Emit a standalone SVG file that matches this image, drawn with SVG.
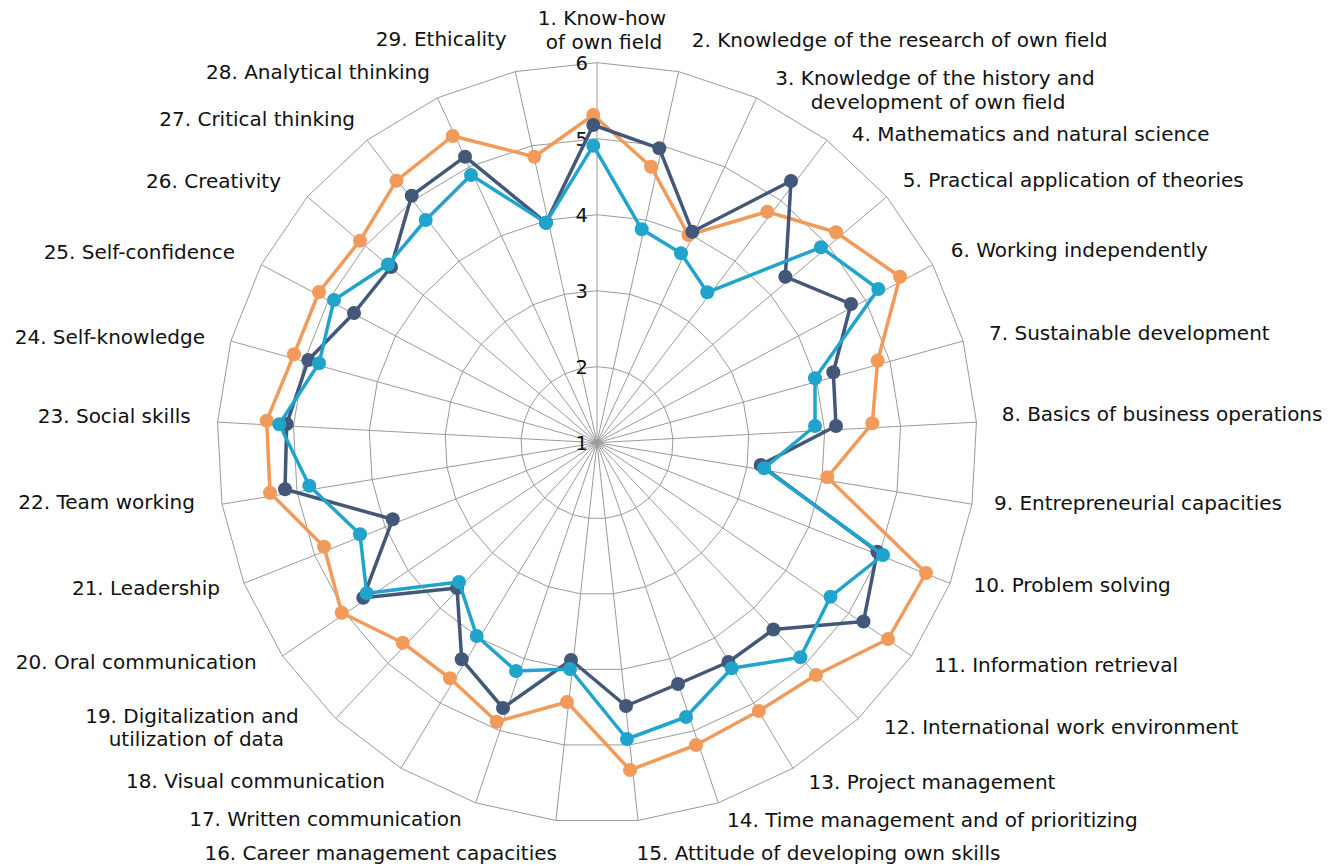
<svg xmlns="http://www.w3.org/2000/svg" xmlns:xlink="http://www.w3.org/1999/xlink" width="1341" height="865" viewBox="0 0 1341 865">
<style>
  .lbl { font-family: "DejaVu Sans", "Liberation Sans", sans-serif; font-size: 20px; fill: #111; }
  .num { font-size: 19.5px; }
  .st { text-anchor: start; }
  .en { text-anchor: end; }
  .mi { text-anchor: middle; }
  .grid { fill: none; stroke: #9a9a9a; stroke-width: 1; vector-effect: non-scaling-stroke; }
  .ser { fill: none; stroke-width: 3.5; stroke-linejoin: round; }
  .orange .ser { stroke: #F29A59; }
  .orange circle { fill: #F29A59; }
  .navy .ser { stroke: #435879; }
  .navy circle { fill: #435879; }
  .teal .ser { stroke: #21A4CB; }
  .teal circle { fill: #21A4CB; }
</style>
<defs>
  <polygon id="ring" class="grid" points="0,-100 21.50,-97.66 41.99,-90.76 60.52,-79.61 76.23,-64.73 88.35,-46.84 96.35,-26.75 99.85,-5.41 98.68,16.18 92.90,37.01 82.77,56.12 68.77,72.60 51.56,85.68 31.93,94.77 10.81,99.41 -10.81,99.41 -31.93,94.77 -51.56,85.68 -68.77,72.60 -82.77,56.12 -92.90,37.01 -98.68,16.18 -99.85,-5.41 -96.35,-26.75 -88.35,-46.84 -76.23,-64.73 -60.52,-79.61 -41.99,-90.76 -21.50,-97.66"/>
</defs>
<rect width="1341" height="865" fill="#fff"/>
<g id="grid" transform="translate(597,442.7)">
  <use xlink:href="#ring" href="#ring" transform="scale(0.76)"/>
  <use xlink:href="#ring" href="#ring" transform="scale(1.52)"/>
  <use xlink:href="#ring" href="#ring" transform="scale(2.28)"/>
  <use xlink:href="#ring" href="#ring" transform="scale(3.04)"/>
  <use xlink:href="#ring" href="#ring" transform="scale(3.8)"/>
  <path class="grid" transform="scale(3.8)" d="M0 0L0 -100M0 0L21.50 -97.66M0 0L41.99 -90.76M0 0L60.52 -79.61M0 0L76.23 -64.73M0 0L88.35 -46.84M0 0L96.35 -26.75M0 0L99.85 -5.41M0 0L98.68 16.18M0 0L92.90 37.01M0 0L82.77 56.12M0 0L68.77 72.60M0 0L51.56 85.68M0 0L31.93 94.77M0 0L10.81 99.41M0 0L-10.81 99.41M0 0L-31.93 94.77M0 0L-51.56 85.68M0 0L-68.77 72.60M0 0L-82.77 56.12M0 0L-92.90 37.01M0 0L-98.68 16.18M0 0L-99.85 -5.41M0 0L-96.35 -26.75M0 0L-88.35 -46.84M0 0L-76.23 -64.73M0 0L-60.52 -79.61M0 0L-41.99 -90.76M0 0L-21.50 -97.66"/>
</g>
<g id="scale" class="lbl num st">
  <text x="575.5" y="449.7">1</text>
  <text x="575.5" y="373.7">2</text>
  <text x="575.5" y="297.7">3</text>
  <text x="575.5" y="221.7">4</text>
  <text x="575.5" y="145.7">5</text>
  <text x="575.5" y="69.7">6</text>
</g>
<g id="connectors">
<g id="series-orange" class="orange">
  <polygon class="ser" points="593.3,115 651,166.7 688.5,235 767.3,211.7 836,232.3 900,276.7 877.7,360.7 872.3,423.3 827.3,477.3 926,573 888,639 816,675 758.8,711 696,745 630,770 567,702 496.7,721.7 450,678.3 402.7,642.7 341.7,612.7 324,546.7 270,492.7 266.7,420.7 294,354.3 319,292 360,240.7 396.5,180.7 452.7,136 534.3,156.7"/>
  <circle cx="593.3" cy="115" r="7"/><circle cx="651" cy="166.7" r="7"/><circle cx="688.5" cy="235" r="7"/><circle cx="767.3" cy="211.7" r="7"/><circle cx="836" cy="232.3" r="7"/><circle cx="900" cy="276.7" r="7"/><circle cx="877.7" cy="360.7" r="7"/><circle cx="872.3" cy="423.3" r="7"/><circle cx="827.3" cy="477.3" r="7"/><circle cx="926" cy="573" r="7"/><circle cx="888" cy="639" r="7"/><circle cx="816" cy="675" r="7"/><circle cx="758.8" cy="711" r="7"/><circle cx="696" cy="745" r="7"/><circle cx="630" cy="770" r="7"/><circle cx="567" cy="702" r="7"/><circle cx="496.7" cy="721.7" r="7"/><circle cx="450" cy="678.3" r="7"/><circle cx="402.7" cy="642.7" r="7"/><circle cx="341.7" cy="612.7" r="7"/><circle cx="324" cy="546.7" r="7"/><circle cx="270" cy="492.7" r="7"/><circle cx="266.7" cy="420.7" r="7"/><circle cx="294" cy="354.3" r="7"/><circle cx="319" cy="292" r="7"/><circle cx="360" cy="240.7" r="7"/><circle cx="396.5" cy="180.7" r="7"/><circle cx="452.7" cy="136" r="7"/><circle cx="534.3" cy="156.7" r="7"/>
</g>
<g id="series-navy" class="navy">
  <polygon class="ser" points="593.3,125 659.3,148.3 692.3,231.7 791,181 785.3,276.7 851,304 833.3,372.3 836,426 760.7,465 877.3,551.7 863.5,621.5 773.4,629.5 728.4,662 678,684 626,706 571,660 503,708 461.7,659.3 457,588 363.3,597.7 392.7,519.3 285,489.3 286.7,424 308.3,360 354,313 391,267 411.7,195.7 465,156.7 546,222.7"/>
  <circle cx="593.3" cy="125" r="7"/><circle cx="659.3" cy="148.3" r="7"/><circle cx="692.3" cy="231.7" r="7"/><circle cx="791" cy="181" r="7"/><circle cx="785.3" cy="276.7" r="7"/><circle cx="851" cy="304" r="7"/><circle cx="833.3" cy="372.3" r="7"/><circle cx="836" cy="426" r="7"/><circle cx="760.7" cy="465" r="7"/><circle cx="877.3" cy="551.7" r="7"/><circle cx="863.5" cy="621.5" r="7"/><circle cx="773.4" cy="629.5" r="7"/><circle cx="728.4" cy="662" r="7"/><circle cx="678" cy="684" r="7"/><circle cx="626" cy="706" r="7"/><circle cx="571" cy="660" r="7"/><circle cx="503" cy="708" r="7"/><circle cx="461.7" cy="659.3" r="7"/><circle cx="457" cy="588" r="7"/><circle cx="363.3" cy="597.7" r="7"/><circle cx="392.7" cy="519.3" r="7"/><circle cx="285" cy="489.3" r="7"/><circle cx="286.7" cy="424" r="7"/><circle cx="308.3" cy="360" r="7"/><circle cx="354" cy="313" r="7"/><circle cx="391" cy="267" r="7"/><circle cx="411.7" cy="195.7" r="7"/><circle cx="465" cy="156.7" r="7"/><circle cx="546" cy="222.7" r="7"/>
</g>
<g id="series-teal" class="teal">
  <polygon class="ser" points="593.3,145.7 641.7,229.3 681,253.3 707.3,292.3 821,247.3 878.3,289 815,378.3 815,426 764,468.3 883,555 830.5,596.7 800.4,657.3 731.8,668.3 686,717 627,739 570,669 516,671 476.7,636 459,582 366.7,593.3 360,534.3 309.3,485.7 279.3,424.3 319,363.3 334,300 388,264.5 425.7,220 471,175 546,222.7"/>
  <circle cx="593.3" cy="145.7" r="7"/><circle cx="641.7" cy="229.3" r="7"/><circle cx="681" cy="253.3" r="7"/><circle cx="707.3" cy="292.3" r="7"/><circle cx="821" cy="247.3" r="7"/><circle cx="878.3" cy="289" r="7"/><circle cx="815" cy="378.3" r="7"/><circle cx="815" cy="426" r="7"/><circle cx="764" cy="468.3" r="7"/><circle cx="883" cy="555" r="7"/><circle cx="830.5" cy="596.7" r="7"/><circle cx="800.4" cy="657.3" r="7"/><circle cx="731.8" cy="668.3" r="7"/><circle cx="686" cy="717" r="7"/><circle cx="627" cy="739" r="7"/><circle cx="570" cy="669" r="7"/><circle cx="516" cy="671" r="7"/><circle cx="476.7" cy="636" r="7"/><circle cx="459" cy="582" r="7"/><circle cx="366.7" cy="593.3" r="7"/><circle cx="360" cy="534.3" r="7"/><circle cx="309.3" cy="485.7" r="7"/><circle cx="279.3" cy="424.3" r="7"/><circle cx="319" cy="363.3" r="7"/><circle cx="334" cy="300" r="7"/><circle cx="388" cy="264.5" r="7"/><circle cx="425.7" cy="220" r="7"/><circle cx="471" cy="175" r="7"/><circle cx="546" cy="222.7" r="7"/>
</g>
</g>
<g id="labels" class="lbl">
  <g id="n1"><text class="mi" x="602" y="25.4"><tspan x="602" y="25.4">1. Know-how</tspan><tspan x="604" y="49">of own field</tspan></text></g>
  <g id="n2"><text class="st" x="691.7" y="46.7">2. Knowledge of the research of own field</text></g>
  <g id="n3"><text class="mi" x="935" y="85.2"><tspan x="935" y="85.2">3. Knowledge of the history and</tspan><tspan x="938" y="108.8">development of own field</tspan></text></g>
  <g id="n4"><text class="st" x="851.7" y="140.7">4. Mathematics and natural science</text></g>
  <g id="n5"><text class="st" x="902.7" y="186.7">5. Practical application of theories</text></g>
  <g id="n6"><text class="st" x="950.7" y="256.7">6. Working independently</text></g>
  <g id="n7"><text class="st" x="989" y="340">7. Sustainable development</text></g>
  <g id="n8"><text class="st" x="1001.7" y="420.7">8. Basics of business operations</text></g>
  <g id="n9"><text class="st" x="994" y="510">9. Entrepreneurial capacities</text></g>
  <g id="n10"><text class="st" x="973.5" y="591.7">10. Problem solving</text></g>
  <g id="n11"><text class="st" x="934" y="671.7">11. Information retrieval</text></g>
  <g id="n12"><text class="st" x="884" y="734.3">12. International work environment</text></g>
  <g id="n13"><text class="st" x="808.5" y="789.3">13. Project management</text></g>
  <g id="n14"><text class="st" x="727" y="826.5">14. Time management and of prioritizing</text></g>
  <g id="n15"><text class="st" x="636.5" y="859.5">15. Attitude of developing own skills</text></g>
  <g id="n16"><text class="en" x="557" y="859.5">16. Career management capacities</text></g>
  <g id="n17"><text class="en" x="461.7" y="825.5">17. Written communication</text></g>
  <g id="n18"><text class="en" x="385" y="788.3">18. Visual communication</text></g>
  <g id="n19"><text class="mi" x="192" y="722.8"><tspan x="192" y="722.8">19. Digitalization and</tspan><tspan x="196.3" y="746.4">utilization of data</tspan></text></g>
  <g id="n20"><text class="en" x="256.7" y="669">20. Oral communication</text></g>
  <g id="n21"><text class="en" x="220" y="595">21. Leadership</text></g>
  <g id="n22"><text class="en" x="195" y="509.3">22. Team working</text></g>
  <g id="n23"><text class="en" x="190.7" y="422.7">23. Social skills</text></g>
  <g id="n24"><text class="en" x="205" y="344.3">24. Self-knowledge</text></g>
  <g id="n25"><text class="en" x="235" y="259.3">25. Self-confidence</text></g>
  <g id="n26"><text class="en" x="281" y="188.3">26. Creativity</text></g>
  <g id="n27"><text class="en" x="355" y="126">27. Critical thinking</text></g>
  <g id="n28"><text class="en" x="430" y="79.3">28. Analytical thinking</text></g>
  <g id="n29"><text class="en" x="506.7" y="46">29. Ethicality</text></g>
</g>
</svg>
